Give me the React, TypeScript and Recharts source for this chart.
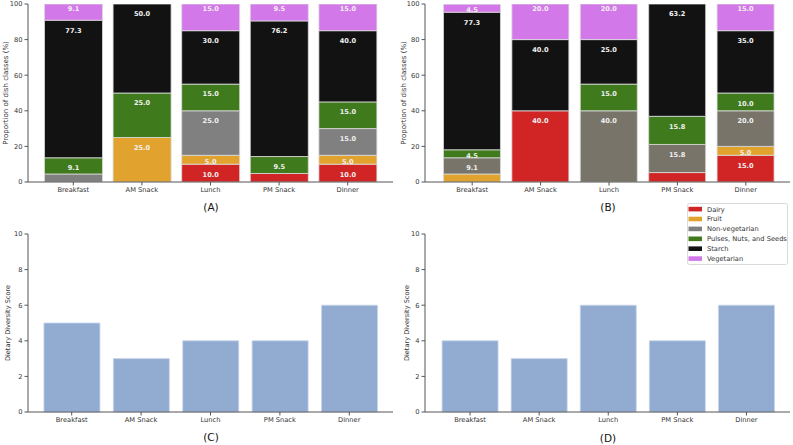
import React from 'react';
import { BarChart, Bar, XAxis, YAxis, LabelList, Legend } from 'recharts';

const meals = ['Breakfast', 'AM Snack', 'Lunch', 'PM Snack', 'Dinner'];
const classNames = ['Dairy', 'Fruit', 'Non-vegetarian', 'Pulses, Nuts, and Seeds', 'Starch', 'Vegetarian'];
const classKeys = ['dairy', 'fruit', 'nonveg', 'pulses', 'starch', 'veg'];

// Panel A proportions (%)
const dairyA = [0, 0, 10, 4.8, 10];
const fruitA = [0, 25, 5, 0, 5];
const nonvegA = [4.5, 0, 25, 0, 15];
const pulsesA = [9.1, 25, 15, 9.5, 15];
const starchA = [77.3, 50, 30, 76.2, 40];
const vegA = [9.1, 0, 15, 9.5, 15];

// Panel B proportions (%)
const dairyB = [0, 40, 0, 5.3, 15];
const fruitB = [4.5, 0, 0, 0, 5];
const nonvegB = [9.1, 0, 40, 15.8, 20];
const pulsesB = [4.5, 0, 15, 15.8, 10];
const starchB = [77.3, 40, 25, 63.2, 35];
const vegB = [4.5, 20, 20, 0, 15];

// Dietary diversity scores
const ddsC = [5, 3, 4, 4, 6];
const ddsD = [4, 3, 6, 4, 6];

const propTicks = [0, 20, 40, 60, 80, 100];
const ddsTicks = [0, 2, 4, 6, 8, 10];

const COLORS_A = ['#d12424', '#e2a32e', '#808080', '#3f7a1d', '#121212', '#d378e8'];
const COLORS_B = ['#d12424', '#e2a32e', '#78746a', '#3f7a1d', '#121212', '#d378e8'];
const DDS_COLOR = '#92abd0';

const FONT = '"DejaVu Sans", sans-serif';
const AXIS = '#555555';
const TXT = '#333333';

const STACK_H = 200;
const XAXIS_H = 18;
const PLOT_BOTTOM = STACK_H - XAXIS_H;

const seriesA = [dairyA, fruitA, nonvegA, pulsesA, starchA, vegA];
const seriesB = [dairyB, fruitB, nonvegB, pulsesB, starchB, vegB];

const buildRows = (series: number[][]) =>
  meals.map((m, i) => {
    const row: any = { meal: m };
    classKeys.forEach((k, j) => (row[k] = series[j][i]));
    return row;
  });

const rowsA = buildRows(seriesA);
const rowsB = buildRows(seriesB);
const rowsC = meals.map((m, i) => ({ meal: m, dds: ddsC[i] }));
const rowsD = meals.map((m, i) => ({ meal: m, dds: ddsD[i] }));

const makeLabel = (j: number) => (props: any) => {
  const { x, y, width, height, value } = props;
  const v = typeof value === 'number' ? value : Number(value);
  if (!v || v <= 0) return null;
  const h = Math.abs(height);
  const top = height >= 0 ? y : y + height;
  const isBottom = Math.abs(top + h - PLOT_BOTTOM) < 1;
  if (isBottom && v < 6) return null;
  let off = h < 20 ? h / 2 + 2 : 10;
  if (j === 5) off = 5;
  return (
    <text
      x={x + width / 2}
      y={top + off}
      dy="0.36em"
      textAnchor="middle"
      fill="#f2f2f2"
      fontWeight="bold"
      fontSize={6.6}
      fontFamily={FONT}
    >
      {v.toFixed(1)}
    </text>
  );
};

const tickStyle = { fontSize: 6.7, fill: TXT, fontFamily: FONT };

const StackPanel = ({ rows, colors, left, padL, padR }: any) => (
  <div style={{ position: 'absolute', left, top: 0 }}>
    <BarChart
      width={396}
      height={STACK_H}
      data={rows}
      margin={{ top: 4, right: 3, bottom: 0, left: 0 }}
      barCategoryGap="8%"
    >
      <XAxis
        dataKey="meal"
        height={XAXIS_H}
        padding={{ left: padL, right: padR }}
        tick={tickStyle}
        tickSize={3.5}
        tickMargin={1.5}
        stroke={AXIS}
        interval={0}
      />
      <YAxis
        width={28}
        domain={[0, 100]}
        ticks={propTicks}
        tick={tickStyle}
        tickSize={3.5}
        tickMargin={2}
        stroke={AXIS}
        allowDataOverflow
      />
      {classKeys.map((k, j) => (
        <Bar
          key={k}
          dataKey={k}
          stackId="s"
          fill={colors[j]}
          stroke="#dcdcdc"
          strokeWidth={0.8}
          isAnimationActive={false}
        >
          <LabelList dataKey={k} content={makeLabel(j)} />
        </Bar>
      ))}
    </BarChart>
  </div>
);

const LegendBox = () => (
  <svg width={101} height={62} style={{ display: 'block' }}>
    <rect x={0.5} y={0.5} width={100} height={61} rx={2} fill="#ffffff" stroke="#d0d0d0" strokeWidth={0.8} />
    {classNames.map((n, i) => (
      <g key={n}>
        <rect x={1.5} y={3.8 + i * 9.9} width={13.5} height={4.6} fill={COLORS_A[i]} />
        <text x={20} y={6.1 + i * 9.9} dy="0.36em" fontSize={6.7} fill={TXT} fontFamily={FONT}>
          {n}
        </text>
      </g>
    ))}
  </svg>
);

const DdsPanel = ({ rows, left, padL, padR, gap, withLegend }: any) => (
  <div style={{ position: 'absolute', left, top: 200 }}>
    <BarChart
      width={396}
      height={230}
      data={rows}
      margin={{ top: 34, right: 3, bottom: 0, left: 0 }}
      barCategoryGap={gap}
    >
      <XAxis
        dataKey="meal"
        height={XAXIS_H}
        padding={{ left: padL, right: padR }}
        tick={tickStyle}
        tickSize={3.5}
        tickMargin={1.5}
        stroke={AXIS}
        interval={0}
      />
      <YAxis
        width={28}
        domain={[0, 10]}
        ticks={ddsTicks}
        tick={tickStyle}
        tickSize={3.5}
        tickMargin={2}
        stroke={AXIS}
      />
      <Bar dataKey="dds" fill={DDS_COLOR} stroke="#c8d6ea" strokeWidth={0.8} isAnimationActive={false} />
      {withLegend && (
        <Legend
          layout="vertical"
          align="center"
          verticalAlign="middle"
          wrapperStyle={{ left: 290, top: 3, width: 101, height: 62 }}
          content={() => <LegendBox />}
        />
      )}
    </BarChart>
  </div>
);

const Overlay = () => (
  <svg
    width={793}
    height={445}
    style={{ position: 'absolute', left: 0, top: 0, pointerEvents: 'none' }}
    fontFamily={FONT}
  >
    <text x={211} y={207} dy="0.36em" textAnchor="middle" fontSize={10.5} fill="#111">(A)</text>
    <text x={608} y={207} dy="0.36em" textAnchor="middle" fontSize={10.5} fill="#111">(B)</text>
    <text x={211} y={437} dy="0.36em" textAnchor="middle" fontSize={10.5} fill="#111">(C)</text>
    <text x={608} y={438} dy="0.36em" textAnchor="middle" fontSize={10.5} fill="#111">(D)</text>
    <text transform="translate(5,93) rotate(-90)" dy="0.36em" textAnchor="middle" fontSize={7} fill={TXT}>
      Proportion of dish classes (%)
    </text>
    <text transform="translate(403,93) rotate(-90)" dy="0.36em" textAnchor="middle" fontSize={7} fill={TXT}>
      Proportion of dish classes (%)
    </text>
    <text transform="translate(8,323) rotate(-90)" dy="0.36em" textAnchor="middle" fontSize={6.6} fill={TXT}>
      Dietary Diversity Score
    </text>
    <text transform="translate(407,323) rotate(-90)" dy="0.36em" textAnchor="middle" fontSize={6.6} fill={TXT}>
      Dietary Diversity Score
    </text>
  </svg>
);

export default function App() {
  return (
    <div
      style={{
        position: 'absolute',
        left: 0,
        top: 0,
        width: 793,
        height: 445,
        background: '#ffffff',
        fontFamily: FONT,
        overflow: 'hidden',
      }}
    >
      <StackPanel rows={rowsA} colors={COLORS_A} left={0} padL={11} padR={11} />
      <StackPanel rows={rowsB} colors={COLORS_B} left={397} padL={13} padR={10} />
      <DdsPanel rows={rowsC} left={0} padL={9} padR={9} gap="10%" withLegend={false} />
      <DdsPanel rows={rowsD} left={397} padL={10.5} padR={9} gap="9.5%" withLegend={true} />
      <Overlay />
    </div>
  );
}
